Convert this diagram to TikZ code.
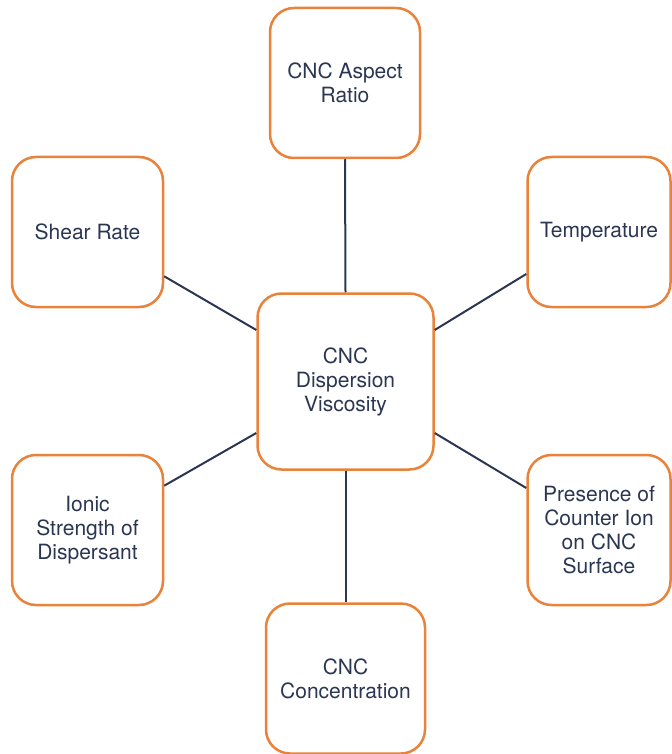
\documentclass[tikz,border=0pt]{standalone}
\usepackage{fontspec}
\setmainfont{TeX Gyre Heros}
\usepackage{tikz}

\definecolor{boxorange}{HTML}{E9823A}
\definecolor{inkblue}{HTML}{2B3653}

\tikzset{
    factor/.style={draw=boxorange, line width=1.25pt, rounded corners=12pt, fill=white,
        text=inkblue, align=center, inner sep=2pt,
        font=\fontsize{10.5}{12}\selectfont},
    link/.style={draw=inkblue, line width=1pt}
}

\begin{document}
\begin{tikzpicture}[x=0.5pt, y=-0.5pt]
    \useasboundingbox (0,0) rectangle (671,754);
    \node[factor, minimum width=75pt, minimum height=75pt] (aspect) at (345,83) {CNC Aspect\\Ratio};
    \node[factor, minimum width=75.5pt, minimum height=75pt] (shear) at (87.5,232) {Shear Rate};
    \node[factor, minimum width=71.5pt, minimum height=75pt] (temp) at (599,232) {Temperature};
    \node[factor, minimum width=88pt, minimum height=88pt] (visc) at (345.5,381.5) {CNC\\Dispersion\\Viscosity};
    \node[factor, minimum width=75.5pt, minimum height=75pt] (ionic) at (87.5,530) {Ionic\\Strength of\\Dispersant};
    \node[factor, minimum width=71.5pt, minimum height=75pt] (counter) at (599,530) {Presence of\\Counter Ion\\on CNC\\Surface};
    \node[factor, minimum width=79.5pt, minimum height=75pt] (conc) at (345.5,678.5) {CNC\\Concentration};
    \draw[link] (aspect.south) -- (visc.north);
    \draw[link] (conc.north) -- (visc.south);
    \draw[link] (shear.-30) -- (visc.150);
    \draw[link] (temp.210) -- (visc.30);
    \draw[link] (ionic.30) -- (visc.210);
    \draw[link] (counter.150) -- (visc.-30);
\end{tikzpicture}
\end{document}
